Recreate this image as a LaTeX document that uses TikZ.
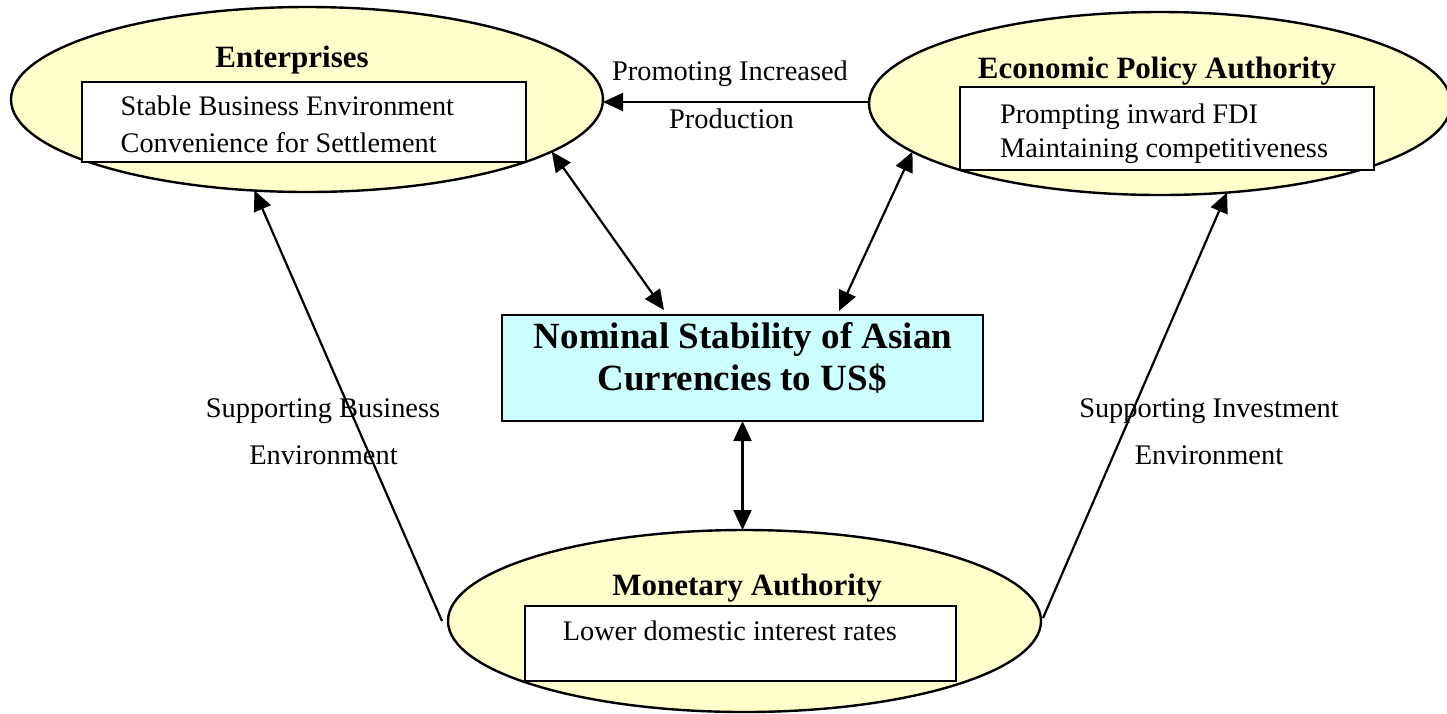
\documentclass[tikz,border=0pt]{standalone}
\usepackage{fontspec}
\setmainfont{Liberation Serif}
\usetikzlibrary{shapes.geometric,arrows.meta}
\definecolor{agentfill}{HTML}{FFFFCC}
\definecolor{corefill}{HTML}{CCFFFF}
\begin{document}
\begin{tikzpicture}[x=1pt,y=-1pt,
  agent/.style={ellipse,draw,line width=2.4pt,fill=agentfill,inner sep=0pt,outer sep=0pt},
  panel/.style={rectangle,draw,line width=2.4pt,fill=white,inner sep=0pt,outer sep=0pt},
  heading/.style={font=\fontsize{31}{36}\selectfont\bfseries,inner sep=0pt,anchor=base},
  coretext/.style={font=\fontsize{37}{44}\selectfont\bfseries,inner sep=0pt,anchor=base},
  itemtext/.style={font=\fontsize{28.3}{34}\selectfont,inner sep=0pt,anchor=base west},
  flowtext/.style={font=\fontsize{28.4}{34}\selectfont,inner sep=0pt,anchor=base},
  head/.tip={Triangle[length=20pt,width=18pt]},
  link/.style={line width=2.2pt,-head},
  twoway/.style={line width=2.2pt,head-head}
]
\useasboundingbox (0,0) rectangle (1447,713);

% the three actors
\node[agent,minimum width=592pt,minimum height=185pt] (ent) at (307,99.5) {};
\node[agent,minimum width=582pt,minimum height=183pt] (epa) at (1160,103.5) {};
\node[agent,minimum width=593pt,minimum height=182pt] (mon) at (744.5,621) {};

% white panels inside the actors
\node[panel,minimum width=444pt,minimum height=80pt] (entbox) at (304,122) {};
\node[panel,minimum width=414pt,minimum height=83pt] (epabox) at (1167,128.5) {};
\node[panel,minimum width=431pt,minimum height=75pt] (monbox) at (740.5,643.5) {};

% central goal
\node[rectangle,draw,line width=2.4pt,fill=corefill,minimum width=481pt,minimum height=106pt,inner sep=0pt,outer sep=0pt] (cen) at (742.5,368) {};
\node[coretext] (cen1) at (743,348) {Nominal Stability of Asian};
\node[coretext] (cen2) at (742,390) {Currencies to US\$};

% actor headings and aims
\node[heading] (enttitle) at (292,67) {Enterprises};
\node[itemtext] (ent1) at (120.5,115) {Stable Business Environment};
\node[itemtext] (ent2) at (120.5,152) {Convenience for Settlement};

\node[heading] (epatitle) at (1157,78) {Economic Policy Authority};
\node[itemtext] (epa1) at (1000,123) {Prompting inward FDI};
\node[itemtext] (epa2) at (1000,157) {Maintaining competitiveness};

\node[heading] (montitle) at (747,595) {Monetary Authority};
\node[itemtext] (mon1) at (562.6,640) {Lower domestic interest rates};

% connectors
\draw[link] ([yshift=1.5pt]epa.west) -- ([yshift=1.5pt]epa.west -| ent.east);
\draw[twoway] (ent.-12) -- ([xshift=-78.5pt,yshift=5pt]cen.north);
\draw[twoway] (epa.191) -- ([xshift=96.5pt,yshift=4pt]cen.north);
\draw[twoway] (cen.south) -- (cen.south |- mon.north);
\draw[link] ([xshift=-6pt]mon.west) -- (ent.-120);
\draw[link] ([shift={(2pt,3pt)}]mon.east) -- (epa.-53);

% connector labels
\node[flowtext] (pro1) at (730,80) {Promoting Increased};
\node[flowtext] (pro2) at (731.5,128) {Production};
\node[flowtext] (sb1) at (323,417) {Supporting Business};
\node[flowtext] (sb2) at (323.5,464) {Environment};
\node[flowtext] (si1) at (1209,417) {Supporting Investment};
\node[flowtext] (si2) at (1209,464) {Environment};
\end{tikzpicture}
\end{document}
